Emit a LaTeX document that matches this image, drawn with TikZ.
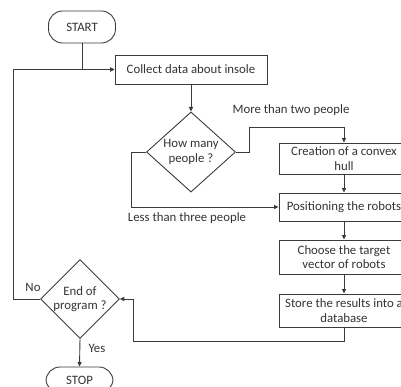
\documentclass[tikz,border=0pt]{standalone}
\usepackage{fontspec}
\setmainfont{Carlito}
\usetikzlibrary{shapes.geometric,arrows.meta}
\definecolor{ln}{HTML}{3A3A3A}
\definecolor{tx}{HTML}{333333}
\tikzset{
  fnt/.style={font=\fontsize{12.8}{14.5}\selectfont},
  base/.style={draw=ln, line width=0.9pt, text=tx, fnt, align=center, inner sep=1pt},
  term/.style={base, rounded corners=14pt, minimum width=67pt, minimum height=32pt},
  proc/.style={base, rectangle, minimum width=130pt},
  dec/.style={base, diamond, inner sep=0pt},
  lab/.style={text=tx, fnt, inner sep=0pt},
  conn/.style={draw=ln, line width=0.9pt},
  arr/.style={conn, -{Triangle[length=4.5pt,width=4pt]}}
}
\begin{document}
\begin{tikzpicture}[x=1pt,y=-1pt]
\useasboundingbox (0,0) rectangle (401,387);
\clip (0,0) rectangle (401,387);
\node[term] (start) at (82,27) {START};
\node[proc, minimum width=152pt, minimum height=29pt] (collect) at (191,69.5) {Collect data about insole};
\node[dec, minimum width=89pt, minimum height=74pt] (how) at (191,152) {How many\\people ?};
\node[proc, minimum height=31pt] (creation) at (344,158.5) {Creation of a convex\\hull};
\node[proc, minimum height=28pt] (position) at (344,207) {Positioning the robots};
\node[proc, minimum height=34pt] (choose) at (344,257) {Choose the target\\vector of robots};
\node[proc, minimum height=33pt] (store) at (344,310.5) {Store the results into a\\database};
\node[dec, minimum width=78pt, minimum height=75pt] (end) at (80,299) {End of\\program ?};
\node[term, minimum height=26pt] (stop) at (79.5,380) {STOP};

\coordinate (c1) at (249,127);
\coordinate (c2) at (131,207);
\coordinate (c3) at (133,341);
\coordinate (c4) at (13,69.5);

\node[lab] (lmore) at (291,110) {More than two people};
\node[lab] (lless) at (187,218) {Less than three people};
\node[lab] (lno) at (33,287) {No};
\node[lab] (lyes) at (97,348) {Yes};

\draw[arr] (start.south) |- (collect.west);
\draw[arr] (collect.south) -- (how.north);
\draw[arr] (how.east) -| (c1) -| (creation.north);
\draw[arr] (how.west) -| (c2) -- (position.west);
\draw[arr] (creation.south) -- (position.north);
\draw[arr] (position.south) -- (choose.north);
\draw[arr] (choose.south) -- (store.north);
\draw[arr] (store.south) |- (c3) |- (end.east);
\draw[arr] (end.west) -| (c4) -- (collect.west);
\draw[arr] (end.south) -- (stop.north);
\end{tikzpicture}
\end{document}
